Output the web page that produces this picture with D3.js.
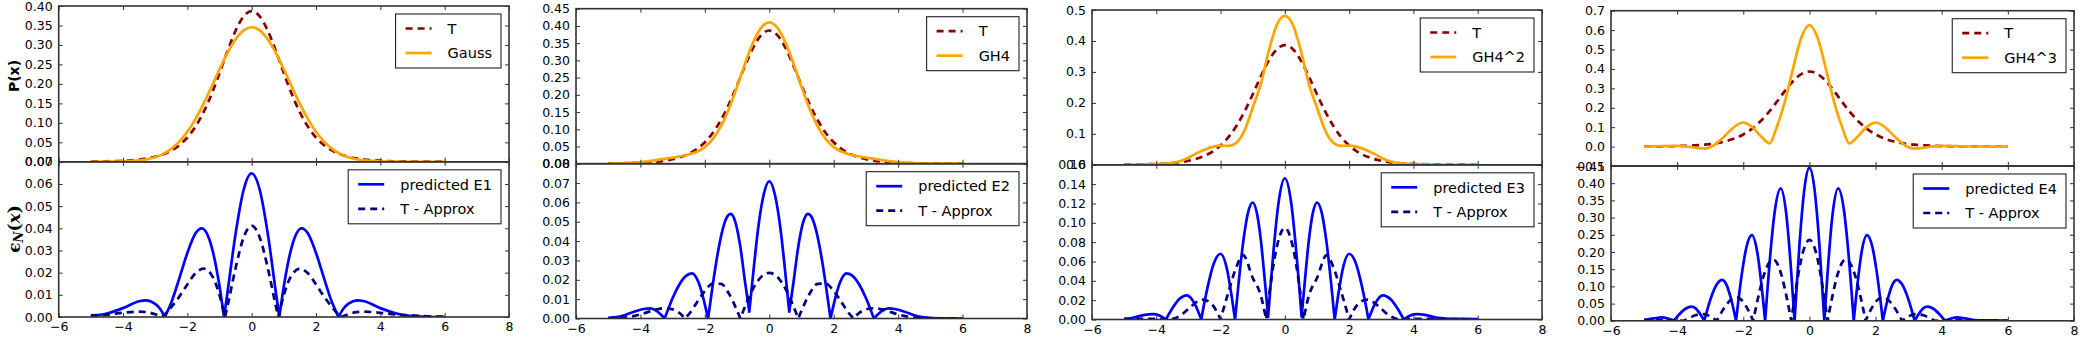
<!DOCTYPE html>
<html>
<head>
<meta charset="utf-8">
<script src="https://d3js.org/d3.v7.min.js"></script>
<style>
  body { margin: 0; background: #fff; }
  .tick text { font-family: "DejaVu Sans", sans-serif; font-size: 12.5px; fill: #000; }
  .tick line { stroke: #333; stroke-width: 1; }
  .spine { fill: none; stroke: #333; stroke-width: 1.6; }
  .legend text { font-family: "DejaVu Sans", sans-serif; font-size: 14.5px; fill: #000; }
  .curve { fill: none; stroke-width: 2.7; stroke-linejoin: round; }
</style>
</head>
<body>
<script>
// ---- data: [x, value] ----
var xTicks = [-6, -4, -2, 0, 2, 4, 6, 8];

var p1TopTicks = [0, 0.05, 0.10, 0.15, 0.20, 0.25, 0.30, 0.35, 0.40];
var p1BotTicks = [0, 0.01, 0.02, 0.03, 0.04, 0.05, 0.06, 0.07];
var p2TopTicks = [0, 0.05, 0.10, 0.15, 0.20, 0.25, 0.30, 0.35, 0.40, 0.45];
var p2BotTicks = [0, 0.01, 0.02, 0.03, 0.04, 0.05, 0.06, 0.07, 0.08];
var p3TopTicks = [0, 0.1, 0.2, 0.3, 0.4, 0.5];
var p3BotTicks = [0, 0.02, 0.04, 0.06, 0.08, 0.10, 0.12, 0.14, 0.16];
var p4TopTicks = [-0.1, 0, 0.1, 0.2, 0.3, 0.4, 0.5, 0.6, 0.7];
var p4BotTicks = [0, 0.05, 0.10, 0.15, 0.20, 0.25, 0.30, 0.35, 0.40, 0.45];

// target density T (same in every panel)
var tDens = [[-5,0.0007],[-4.5,0.0013],[-4,0.0028],[-3.5,0.0059],[-3.25,0.0088],[-3,0.0130],[-2.75,0.0194],
  [-2.5,0.0288],[-2.25,0.0426],[-2,0.0624],[-1.75,0.0899],[-1.5,0.1268],[-1.25,0.1732],[-1,0.2276],
  [-0.75,0.2848],[-0.5,0.3367],[-0.25,0.3734],[0,0.3867],[0.25,0.3734],[0.5,0.3367],[0.75,0.2848],
  [1,0.2276],[1.25,0.1732],[1.5,0.1268],[1.75,0.0899],[2,0.0624],[2.25,0.0426],[2.5,0.0288],[2.75,0.0194],
  [3,0.0130],[3.25,0.0088],[3.5,0.0059],[4,0.0028],[4.5,0.0013],[5,0.0007],[5.5,0.0003],[6,0.0002]];

var gauss = [[-5,0],[-4.5,0.0002],[-4,0.0009],[-3.5,0.0035],[-3.25,0.0066],[-3,0.0118],[-2.75,0.0203],
  [-2.5,0.0332],[-2.25,0.0518],[-2,0.0771],[-1.75,0.1096],[-1.5,0.1486],[-1.25,0.1923],[-1,0.2375],
  [-0.75,0.2798],[-0.5,0.3146],[-0.25,0.3375],[0,0.3455],[0.25,0.3375],[0.5,0.3146],[0.75,0.2798],
  [1,0.2375],[1.25,0.1923],[1.5,0.1486],[1.75,0.1096],[2,0.0771],[2.25,0.0518],[2.5,0.0332],[2.75,0.0203],
  [3,0.0118],[3.25,0.0066],[3.5,0.0035],[4,0.0009],[4.5,0.0002],[5,0],[5.5,0],[6,0]];

var e1Pred = [[-5,0.0004],[-4.5,0.0016],[-4,0.0040],[-3.5,0.0071],[-3.3,0.0075],[-3,0.0059],[-2.85,0.0037],
  [-2.7,0],[-2.5,0.0065],[-2.25,0.0174],[-2,0.0289],[-1.75,0.0377],[-1.55,0.0400],[-1.25,0.0319],[-1,0.0139],
  [-0.86,0],[-0.75,0.0113],[-0.5,0.0376],[-0.25,0.0574],[0,0.0648],[0.25,0.0574],[0.5,0.0376],[0.75,0.0113],
  [0.86,0],[1,0.0139],[1.25,0.0319],[1.55,0.0400],[1.75,0.0377],[2,0.0289],[2.25,0.0174],[2.5,0.0065],
  [2.7,0],[2.85,0.0037],[3,0.0059],[3.3,0.0075],[3.5,0.0071],[4,0.0040],[4.5,0.0016],[5,0.0004],[5.5,0.0001],[6,0]];

var e1Diff = [[-5,0.0007],[-4.5,0.0011],[-4,0.0019],[-3.5,0.0024],[-3.25,0.0022],[-3,0.0012],[-2.78,0],
  [-2.5,0.0044],[-2.25,0.0092],[-2,0.0147],[-1.75,0.0197],[-1.5,0.0218],[-1.25,0.0191],[-1,0.0099],
  [-0.83,0],[-0.75,0.0050],[-0.5,0.0221],[-0.25,0.0359],[0,0.0412],[0.25,0.0359],[0.5,0.0221],[0.75,0.0050],
  [0.83,0],[1,0.0099],[1.25,0.0191],[1.5,0.0218],[1.75,0.0197],[2,0.0147],[2.25,0.0092],[2.5,0.0044],
  [2.78,0],[3,0.0012],[3.25,0.0022],[3.5,0.0024],[4,0.0019],[4.5,0.0011],[5,0.0007],[5.5,0.0003],[6,0.0002]];

var gh4 = [[-5,0.0005],[-4.5,0.0018],[-4,0.0049],[-3.5,0.0106],[-3.25,0.0141],[-3,0.0177],[-2.75,0.0217],
  [-2.5,0.0267],[-2.25,0.0344],[-2,0.0482],[-1.75,0.0719],[-1.5,0.1089],[-1.25,0.1604],[-1,0.2236],
  [-0.75,0.2911],[-0.5,0.3522],[-0.25,0.3949],[0,0.4103],[0.25,0.3949],[0.5,0.3522],[0.75,0.2911],
  [1,0.2236],[1.25,0.1604],[1.5,0.1089],[1.75,0.0719],[2,0.0482],[2.25,0.0344],[2.5,0.0267],[2.75,0.0217],
  [3,0.0177],[3.25,0.0141],[3.5,0.0106],[4,0.0049],[4.5,0.0018],[5,0.0005],[5.5,0.0001],[6,0]];

var e2Pred = [[-5,0.0002],[-4.8,0.0006],[-4.5,0.0017],[-4.2,0.0035],[-3.9,0.0049],[-3.7,0.0052],[-3.5,0.0040],
  [-3.35,0.0018],[-3.25,0],[-3.15,0.0043],[-3,0.0106],[-2.8,0.0173],[-2.6,0.0218],[-2.4,0.0233],[-2.2,0.0188],
  [-2.1,0.0137],[-2,0.0072],[-1.9,0],[-1.75,0.0179],[-1.6,0.0337],[-1.45,0.0458],[-1.3,0.0528],[-1.2,0.0541],
  [-1.05,0.0497],[-0.9,0.0372],[-0.75,0.0186],[-0.62,0.0035],[-0.5,0.0232],[-0.35,0.0460],[-0.2,0.0620],
  [0,0.0709],[0.2,0.0620],[0.35,0.0460],[0.5,0.0232],[0.62,0.0035],[0.75,0.0186],[0.9,0.0372],[1.05,0.0497],
  [1.2,0.0541],[1.3,0.0528],[1.45,0.0458],[1.6,0.0337],[1.75,0.0179],[1.9,0],[2,0.0072],[2.1,0.0137],
  [2.2,0.0188],[2.4,0.0233],[2.6,0.0218],[2.8,0.0173],[3,0.0106],[3.15,0.0043],[3.25,0],[3.35,0.0018],
  [3.5,0.0040],[3.7,0.0052],[3.9,0.0049],[4.2,0.0035],[4.5,0.0017],[4.8,0.0006],[5,0.0002],[5.5,0.0001],[6,0]];

var e2Diff = [[-5,0.0002],[-4.5,0.0005],[-4,0.0021],[-3.5,0.0047],[-3.25,0.0053],[-3,0.0047],[-2.75,0.0023],
  [-2.62,0],[-2.5,0.0021],[-2.25,0.0082],[-2,0.0142],[-1.75,0.0180],[-1.5,0.0179],[-1.25,0.0128],[-1,0.0040],
  [-0.9,0],[-0.75,0.0063],[-0.5,0.0155],[-0.25,0.0215],[0,0.0236],[0.25,0.0215],[0.5,0.0155],[0.75,0.0063],
  [0.9,0],[1,0.0040],[1.25,0.0128],[1.5,0.0179],[1.75,0.0180],[2,0.0142],[2.25,0.0082],[2.5,0.0021],
  [2.62,0],[2.75,0.0023],[3,0.0047],[3.25,0.0053],[3.5,0.0047],[4,0.0021],[4.5,0.0005],[5,0.0002],[5.5,0.0001],[6,0.0001]];

var gh4sq = [[-5,0.0001],[-4.5,0.0005],[-4,0.0022],[-3.75,0.0038],[-3.5,0.006],[-3.25,0.012],[-3,0.023],
  [-2.75,0.037],[-2.5,0.049],[-2.25,0.058],[-2,0.062],[-1.75,0.061],[-1.5,0.072],[-1.25,0.112],[-1,0.185],
  [-0.75,0.260],[-0.5,0.368],[-0.25,0.452],[0,0.481],[0.25,0.452],[0.5,0.368],[0.75,0.260],[1,0.185],
  [1.25,0.112],[1.5,0.072],[1.75,0.061],[2,0.062],[2.25,0.058],[2.5,0.049],[2.75,0.037],[3,0.023],
  [3.25,0.012],[3.5,0.006],[3.75,0.0038],[4,0.0022],[4.5,0.0005],[5,0.0001],[5.5,0],[6,0]];

var e3Pred = [[-5,0.0005],[-4.7,0.002],[-4.4,0.0045],[-4.1,0.0055],[-3.9,0.0042],[-3.7,0],[-3.5,0.0116],
  [-3.3,0.0206],[-3.05,0.025],[-2.8,0.016],[-2.6,0],[-2.5,0.018],[-2.4,0.034],[-2.2,0.059],[-2,0.068],
  [-1.8,0.052],[-1.65,0.023],[-1.55,0],[-1.45,0.034],[-1.3,0.079],[-1.15,0.110],[-1,0.121],[-0.87,0.110],
  [-0.75,0.083],[-0.62,0.039],[-0.52,0.003],[-0.45,0.033],[-0.35,0.072],[-0.2,0.120],[0,0.146],
  [0.2,0.120],[0.35,0.072],[0.45,0.033],[0.52,0.003],[0.62,0.039],[0.75,0.083],[0.87,0.110],[1,0.121],
  [1.15,0.110],[1.3,0.079],[1.45,0.034],[1.55,0],[1.65,0.023],[1.8,0.052],[2,0.068],[2.2,0.059],[2.4,0.034],
  [2.5,0.018],[2.6,0],[2.8,0.016],[3.05,0.025],[3.3,0.0206],[3.5,0.0116],[3.7,0],[3.9,0.0042],[4.1,0.0055],
  [4.4,0.0045],[4.7,0.002],[5,0.001],[5.5,0.0007],[6,0.0005]];

var e3Diff = [[-5,0.0006],[-4.5,0.0008],[-4,0.0007],[-3.55,0],[-3.25,0.004],[-3,0.011],[-2.75,0.018],
  [-2.55,0.0205],[-2.25,0.015],[-2,0],[-1.75,0.029],[-1.5,0.055],[-1.3,0.0666],[-1,0.043],[-0.75,0.025],
  [-0.58,0],[-0.45,0.035],[-0.25,0.075],[0,0.0948],[0.25,0.075],[0.45,0.035],[0.58,0],[0.75,0.025],[1,0.043],
  [1.3,0.0666],[1.5,0.055],[1.75,0.029],[2,0],[2.25,0.015],[2.55,0.0205],[2.75,0.018],[3,0.011],[3.25,0.004],
  [3.55,0],[4,0.0007],[4.5,0.0008],[5,0.0006],[5.5,0.0003],[6,0.0002]];

var gh4cube = [[-5,0],[-4.5,0.002],[-4,0.004],[-3.6,-0.002],[-3.35,-0.008],[-3.15,-0.010],[-3,-0.004],
  [-2.8,0.018],[-2.6,0.048],[-2.4,0.082],[-2.2,0.111],[-2,0.124],[-1.85,0.115],[-1.7,0.0965],[-1.45,0.050],
  [-1.2,0.017],[-1,0.095],[-0.75,0.227],[-0.5,0.399],[-0.25,0.559],[0,0.626],[0.25,0.559],[0.5,0.399],
  [0.75,0.227],[1,0.095],[1.2,0.017],[1.45,0.050],[1.7,0.0965],[1.85,0.115],[2,0.124],[2.2,0.111],
  [2.4,0.082],[2.6,0.048],[2.8,0.018],[3,-0.004],[3.15,-0.010],[3.35,-0.008],[3.6,-0.002],[4,0.004],
  [4.5,0.002],[5,0.0005],[5.5,0.0003],[6,0]];

var e4Pred = [[-5,0.003],[-4.7,0.007],[-4.47,0.0098],[-4.3,0.007],[-4.1,0],[-3.95,0.017],[-3.75,0.035],
  [-3.56,0.041],[-3.45,0.037],[-3.3,0.019],[-3.18,0],[-3.1,0.028],[-3,0.060],[-2.8,0.106],[-2.64,0.119],
  [-2.5,0.103],[-2.35,0.056],[-2.22,0],[-2.15,0.057],[-2.05,0.132],[-1.9,0.216],[-1.74,0.249],[-1.58,0.201],
  [-1.45,0.104],[-1.34,0],[-1.28,0.077],[-1.2,0.174],[-1.05,0.317],[-0.87,0.385],[-0.7,0.310],[-0.55,0.141],
  [-0.45,0],[-0.4,0.077],[-0.3,0.223],[-0.15,0.385],[0,0.445],[0.15,0.385],[0.3,0.223],[0.4,0.077],[0.45,0],
  [0.55,0.141],[0.7,0.310],[0.87,0.385],[1.05,0.317],[1.2,0.174],[1.28,0.077],[1.34,0],[1.45,0.104],
  [1.58,0.201],[1.74,0.249],[1.9,0.216],[2.05,0.132],[2.15,0.057],[2.22,0],[2.35,0.056],[2.5,0.103],
  [2.64,0.119],[2.8,0.106],[3,0.060],[3.1,0.028],[3.18,0],[3.3,0.019],[3.45,0.037],[3.56,0.041],[3.75,0.035],
  [3.95,0.017],[4.1,0],[4.3,0.007],[4.47,0.0098],[4.7,0.007],[5,0.002],[5.5,0.001],[6,0.0003]];

var e4Diff = [[-5,0.0003],[-4.6,0.002],[-4.2,0.002],[-3.8,0],[-3.65,0.007],[-3.45,0.016],[-3.2,0.0195],
  [-3,0.013],[-2.8,0],[-2.6,0.034],[-2.4,0.059],[-2.2,0.068],[-2,0.055],[-1.85,0.031],[-1.7,0],[-1.55,0.068],
  [-1.4,0.126],[-1.25,0.164],[-1.1,0.178],[-1,0.171],[-0.85,0.134],[-0.7,0.074],[-0.55,0],[-0.45,0.066],
  [-0.35,0.127],[-0.2,0.198],[0,0.235],[0.2,0.198],[0.35,0.127],[0.45,0.066],[0.55,0],[0.7,0.074],
  [0.85,0.134],[1,0.171],[1.1,0.178],[1.25,0.164],[1.4,0.126],[1.55,0.068],[1.7,0],[1.85,0.031],[2,0.055],
  [2.2,0.068],[2.4,0.059],[2.6,0.034],[2.8,0],[3,0.013],[3.2,0.0195],[3.45,0.016],[3.65,0.007],[3.8,0],
  [4.2,0.002],[4.6,0.002],[5,0.001],[5.5,0.0005],[6,0.0002]];

// ---- layout ----
var panels = [
  {left: 58.7, right: 509, top: 6, mid: 161.8, bottom: 317,
   topDomain: [0, 0.40], topTicks: p1TopTicks, topFmt: ".2f",
   botDomain: [0, 0.07], botTicks: p1BotTicks, botFmt: ".2f",
   approx: gauss, approxName: "Gauss", pred: e1Pred, predName: "predicted E1", diff: e1Diff},
  {left: 576, right: 1027, top: 8.7, mid: 163.7, bottom: 318.5,
   topDomain: [0, 0.45], topTicks: p2TopTicks, topFmt: ".2f",
   botDomain: [0, 0.08], botTicks: p2BotTicks, botFmt: ".2f",
   approx: gh4, approxName: "GH4", pred: e2Pred, predName: "predicted E2", diff: e2Diff},
  {left: 1092, right: 1542, top: 10, mid: 164.8, bottom: 319.5,
   topDomain: [0, 0.5], topTicks: p3TopTicks, topFmt: ".1f",
   botDomain: [0, 0.16], botTicks: p3BotTicks, botFmt: ".2f",
   approx: gh4sq, approxName: "GH4^2", pred: e3Pred, predName: "predicted E3", diff: e3Diff},
  {left: 1611, right: 2074, top: 10.7, mid: 166, bottom: 320.8,
   topDomain: [-0.1, 0.7], topTicks: p4TopTicks, topFmt: ".1f",
   botDomain: [0, 0.45], botTicks: p4BotTicks, botFmt: ".2f",
   approx: gh4cube, approxName: "GH4^3", pred: e4Pred, predName: "predicted E4", diff: e4Diff}
];

var svg = d3.select("body").append("svg")
    .attr("width", 2080)
    .attr("height", 338);

// split an error curve at its cusps so each lobe meets the next in a sharp V
function splitLobes(pts) {
  var out = [], cur = [pts[0]];
  for (var i = 1; i < pts.length; i++) {
    cur.push(pts[i]);
    if (i < pts.length - 1 && pts[i][1] < pts[i-1][1] && pts[i][1] < pts[i+1][1]) {
      out.push(cur);
      cur = [pts[i]];
    }
  }
  out.push(cur);
  return out;
}

function addLegend(g, right, top, items) {
  var lg = g.append("g").attr("class", "legend");
  var box = lg.append("rect").attr("fill", "#fff").attr("stroke", "#222").attr("stroke-width", 1.1);
  var texts = items.map(function(it) { return lg.append("text").text(it.name); });
  var maxW = d3.max(texts, function(t) { return t.node().getComputedTextLength(); });
  var w = 52 + maxW + 9, h = 54, left = right - w;
  box.attr("x", left).attr("y", top).attr("width", w).attr("height", h);
  items.forEach(function(it, i) {
    var cy = top + 14.5 + i * 24.5;
    lg.append("line")
        .attr("x1", left + 10).attr("x2", left + 36)
        .attr("y1", cy).attr("y2", cy)
        .attr("stroke", it.color).attr("stroke-width", 2.7)
        .attr("stroke-dasharray", it.dash || null);
    texts[i].attr("x", left + 52).attr("y", cy).attr("dy", "0.36em");
  });
}

panels.forEach(function(p, pi) {
  var x = d3.scaleLinear().domain([-6, 8]).range([p.left, p.right]);
  var halves = [
    {y: d3.scaleLinear().domain(p.topDomain).range([p.mid, p.top]), y0: p.top, y1: p.mid,
     ticks: p.topTicks, fmt: p.topFmt, labels: false},
    {y: d3.scaleLinear().domain(p.botDomain).range([p.bottom, p.mid]), y0: p.mid, y1: p.bottom,
     ticks: p.botTicks, fmt: p.botFmt, labels: true}
  ];

  halves.forEach(function(h, hi) {
    var g = svg.append("g");
    var clipId = "clip" + pi + "_" + hi;
    svg.append("clipPath").attr("id", clipId).append("rect")
        .attr("x", p.left).attr("y", h.y0).attr("width", p.right - p.left).attr("height", h.y1 - h.y0);

    // curves
    var line = d3.line().x(function(d) { return x(d[0]); }).y(function(d) { return h.y(d[1]); })
        .curve(d3.curveMonotoneX);
    var plot = g.append("g").attr("clip-path", "url(#" + clipId + ")");

    if (hi === 0) {
      plot.append("path").attr("class", "curve").attr("d", line(tDens))
          .attr("stroke", "#8b0000").attr("stroke-dasharray", "7,5");
      plot.append("path").attr("class", "curve").attr("d", line(p.approx))
          .attr("stroke", "#ffa500");
    } else {
      var lobed = function(pts) {
        return splitLobes(pts).map(function(l, i) {
          var s = line(l);
          return i ? s.replace(/^M/, "L") : s;
        }).join("");
      };
      plot.append("path").attr("class", "curve").attr("d", lobed(p.pred))
          .attr("stroke", "#0000ff");
      plot.append("path").attr("class", "curve").attr("d", lobed(p.diff))
          .attr("stroke", "#000080").attr("stroke-dasharray", "7,5");
    }

    // ticks, inward on all four sides
    g.append("g").attr("transform", "translate(" + p.left + ",0)")
        .call(d3.axisLeft(h.y).tickValues(h.ticks).tickSizeInner(-4).tickSizeOuter(0)
          .tickPadding(6).tickFormat(d3.format(h.fmt)))
        .call(function(a) { a.select(".domain").remove(); });
    g.append("g").attr("transform", "translate(" + p.right + ",0)")
        .call(d3.axisRight(h.y).tickValues(h.ticks).tickSizeInner(-4).tickSizeOuter(0).tickFormat(""))
        .call(function(a) { a.select(".domain").remove(); });
    g.append("g").attr("transform", "translate(0," + h.y0 + ")")
        .call(d3.axisTop(x).tickValues(xTicks).tickSizeInner(-4).tickSizeOuter(0).tickFormat(""))
        .call(function(a) { a.select(".domain").remove(); });
    g.append("g").attr("transform", "translate(0," + h.y1 + ")")
        .call(d3.axisBottom(x).tickValues(xTicks).tickSizeInner(-4).tickSizeOuter(0).tickPadding(5.5)
          .tickFormat(h.labels ? d3.format("d") : ""))
        .call(function(a) { a.select(".domain").remove(); });

    g.append("rect").attr("class", "spine")
        .attr("x", p.left).attr("y", h.y0).attr("width", p.right - p.left).attr("height", h.y1 - h.y0);

    if (hi === 0) {
      addLegend(g, p.right - 8, h.y0 + 8, [
        {name: "T", color: "#8b0000", dash: "7,5"},
        {name: p.approxName, color: "#ffa500"}
      ]);
    } else {
      addLegend(g, p.right - 8, h.y0 + 8, [
        {name: p.predName, color: "#0000ff"},
        {name: "T - Approx", color: "#000080", dash: "7,5"}
      ]);
    }
  });
});

// y labels of the first panel
svg.append("text")
    .attr("transform", "translate(14,76) rotate(-90)")
    .attr("text-anchor", "middle").attr("dy", "0.36em")
    .style("font-family", "DejaVu Sans").style("font-size", "14px").style("font-weight", "bold")
    .text("P(x)");

var eps = svg.append("text")
    .attr("transform", "translate(14,229) rotate(-90)")
    .attr("text-anchor", "middle").attr("dy", "0.36em")
    .style("font-family", "DejaVu Serif").style("font-size", "17px").style("font-weight", "bold");
eps.append("tspan").text("\u03f5");
eps.append("tspan").attr("font-size", "12px").attr("font-style", "italic").attr("dy", "3").text("N");
eps.append("tspan").attr("dy", "-3").text("(");
eps.append("tspan").attr("font-style", "italic").text("x");
eps.append("tspan").text(")");
</script>
</body>
</html>
